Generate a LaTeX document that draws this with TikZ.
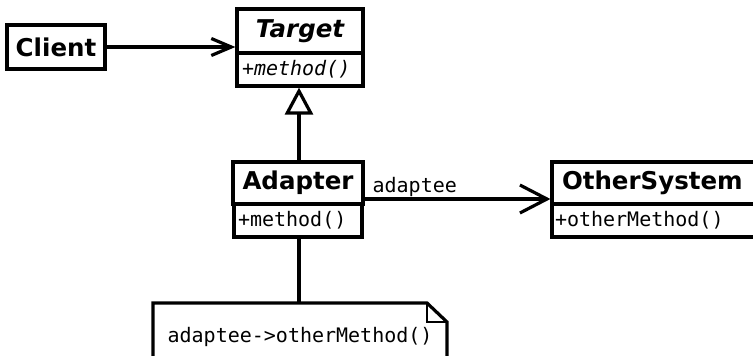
\documentclass[tikz,border=0pt]{standalone}
\usepackage{fontspec}
\setmainfont{DejaVu Sans}
\newfontfamily\umono{DejaVu Sans Mono}
\usetikzlibrary{arrows.meta}
\begin{document}
\begin{tikzpicture}[x=1bp,y=-1bp, line width=3.2bp,
  cls/.style={draw, rectangle, inner sep=0pt, font=\fontsize{24.5bp}{27bp}\selectfont\bfseries},
  meth/.style={draw, rectangle, inner xsep=5bp, inner ysep=0pt, align=left, minimum height=33bp, font=\umono\fontsize{20bp}{23bp}\selectfont},
  mono/.style={inner sep=0pt, font=\umono\fontsize{20bp}{23bp}\selectfont},
  assoc/.style={-{Straight Barb[length=27bp,width=28bp]}},
  use/.style={-{Straight Barb[length=20bp,width=17bp]}},
  inherit/.style={-{Triangle[open,length=27bp,width=28bp]}},
  fold/.style={line width=1.2bp}]
\useasboundingbox (0,0) rectangle (753,355);
% Client
\node[cls, minimum width=98bp, minimum height=44bp] (client) at (56,47) {Client};
% Target
\node[cls, minimum width=126bp, minimum height=44bp, font=\fontsize{24.5bp}{27bp}\selectfont\bfseries\itshape] (tname) at (300,31) {Target};
\node[meth, text width=116bp] (tmeth) at (300,69.5) {\itshape +method()};
% Adapter
\node[cls, minimum width=130bp, minimum height=42bp] (aname) at (298,183) {Adapter};
\node[meth, text width=120bp, inner xsep=4bp] (ameth) at (298,220.5) {+method()};
% OtherSystem
\node[cls, text width=194bp, align=left, inner xsep=10bp, minimum height=42bp] (oname) at (659,183) {OtherSystem};
\node[meth, text width=208bp, inner xsep=3bp] (ometh) at (659,220.5) {+otherMethod()};
% Note
\node[mono, anchor=base west] (note) at (166,342) {adaptee->otherMethod()};
\coordinate (notetop) at (299,303);
\draw (153,362) -- (153,303) -- (427,303) -- (447,322) -- (447,362);
\draw[fold] (427,303) -- (427,322) -- (447,322);
% label
\node[mono, anchor=base west] (lbl) at (371,192) {adaptee};
% connectors
\draw[use] (client.east) -- (client.east -| tname.west);
\draw[inherit] ([xshift=1bp]aname.north) -- ([xshift=1bp]aname.north |- tmeth.south);
\draw[assoc] ([yshift=-16bp]aname.east) -- ([yshift=-16bp]oname.west);
\draw ([xshift=1bp]ameth.south) -- (notetop);
\end{tikzpicture}
\end{document}
